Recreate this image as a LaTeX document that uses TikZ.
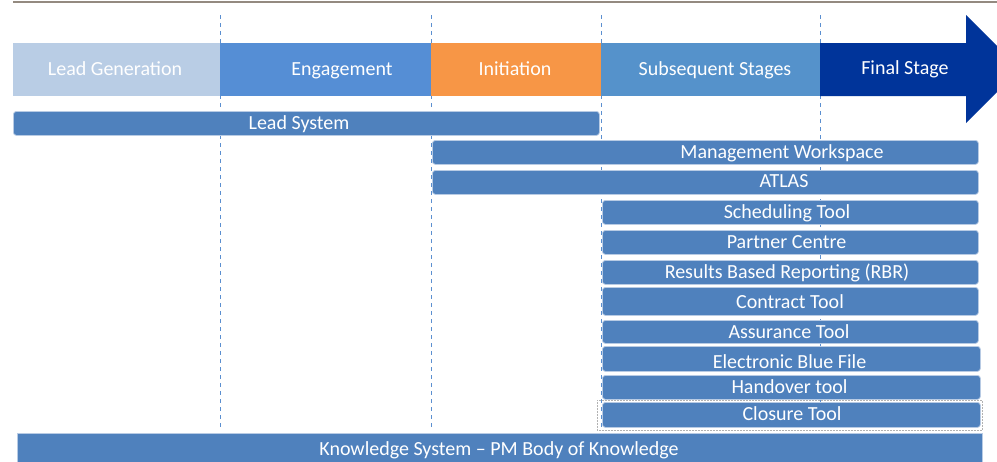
\documentclass[tikz,border=0pt]{standalone}
\usepackage{fontspec}
\setmainfont{Carlito}
\definecolor{leadgen}{HTML}{B9CDE5}
\definecolor{engage}{HTML}{558ED5}
\definecolor{initc}{HTML}{F79646}
\definecolor{subseq}{HTML}{5592CB}
\definecolor{finalc}{HTML}{00349A}
\definecolor{barc}{HTML}{4F81BD}
\definecolor{baredge}{HTML}{B8CBE4}
\definecolor{topline}{HTML}{948A80}
\definecolor{dashc}{HTML}{5B8FD0}
\begin{document}
\begin{tikzpicture}[x=1pt,y=-1pt,
  stagebox/.style={fill=#1, draw=none, inner sep=0pt, anchor=north west, minimum height=53pt},
  stagetext/.style={text=white, font=\fontsize{20}{24}\selectfont, inner sep=0pt, anchor=base},
  bar/.style={fill=barc, draw=baredge, line width=0.8pt, rounded corners=3pt, inner sep=0pt, anchor=north west},
  bartext/.style={text=white, font=\fontsize{20}{24}\selectfont, inner sep=0pt, anchor=base},
  phase/.style={draw=dashc, line width=0.9pt, dash pattern=on 4pt off 4pt}]
\useasboundingbox (0,0) rectangle (997,461);
% top line
\coordinate (tl) at (13,2);
\coordinate (tr) at (997,2);
\draw[topline, line width=2pt] (tl) -- (tr);
% dashed phase lines
\foreach \x/\n in {220/a,431/b,601/c,820/d}{
  \coordinate (p\n t) at (\x,15);
  \coordinate (p\n b) at (\x,430);
  \draw[phase] (p\n t) -- (p\n b);
}
% stages
\node[stagebox=leadgen, minimum width=207pt] (lg) at (13,43) {};
\node[stagebox=engage, minimum width=211pt] (en) at (220,43) {};
\node[stagebox=initc, minimum width=170pt] (in) at (431,43) {};
\node[stagebox=subseq, minimum width=219pt] (ss) at (601,43) {};
\begin{scope}
\clip (0,0) rectangle (997,461);
\fill[finalc] (820,43) -- (966,43) -- (966,15) -- (1020,69) -- (966,123) -- (966,96) -- (820,96) -- cycle;
\end{scope}
\node[stagetext] (lgt) at (115,75) {Lead Generation};
\node[stagetext] (ent) at (342,75) {Engagement};
\node[stagetext] (int) at (515,75) {Initiation};
\node[stagetext] (sst) at (715,75) {Subsequent Stages};
\node[stagetext] (fst) at (905,74) {Final Stage};
% bars
\node[bar, minimum width=586pt, minimum height=24pt] (ls) at (13,111) {};
\node[bartext] (lst) at (299,129) {Lead System};
\node[bar, minimum width=546pt, minimum height=24pt] (mw) at (432,140) {};
\node[bartext] (mwt) at (782,158) {Management Workspace};
\node[bar, minimum width=546pt, minimum height=24pt] (at) at (432,170) {};
\node[bartext] (att) at (784,187.5) {ATLAS};
\node[bar, minimum width=376pt, minimum height=24pt] (st) at (602,200) {};
\node[bartext] (stt) at (787,218) {Scheduling Tool};
\node[bar, minimum width=376pt, minimum height=24pt] (pc) at (602,230) {};
\node[bartext] (pct) at (786.5,248) {Partner Centre};
\node[bar, minimum width=376pt, minimum height=24pt] (rbr) at (602,260) {};
\node[bartext] (rbrt) at (787,278) {Results Based Reporting (RBR)};
\node[bar, minimum width=376pt, minimum height=28pt] (ct) at (602,287) {};
\node[bartext] (ctt) at (790,308.5) {Contract Tool};
\node[bar, minimum width=376pt, minimum height=23pt] (as) at (602,320) {};
\node[bartext] (ast) at (789,338.5) {Assurance Tool};
\node[bar, minimum width=378pt, minimum height=25pt] (eb) at (602,346) {};
\node[bartext] (ebt) at (789.5,368) {Electronic Blue File};
\node[bar, minimum width=378pt, minimum height=24pt] (ho) at (602,375) {};
\node[bartext] (hot) at (789.5,393) {Handover tool};
\node[bar, minimum width=378pt, minimum height=25pt] (cl) at (602,402) {};
\node[bartext] (clt) at (792,420) {Closure Tool};
\draw[gray!60, line width=0.5pt, densely dotted] (597,400) rectangle (982,430);
\node[bar, minimum width=965pt, minimum height=34pt, rounded corners=0pt] (ks) at (17,433) {};
\node[bartext] (kst) at (499,455) {Knowledge System -- PM Body of Knowledge};
\end{tikzpicture}
\end{document}
